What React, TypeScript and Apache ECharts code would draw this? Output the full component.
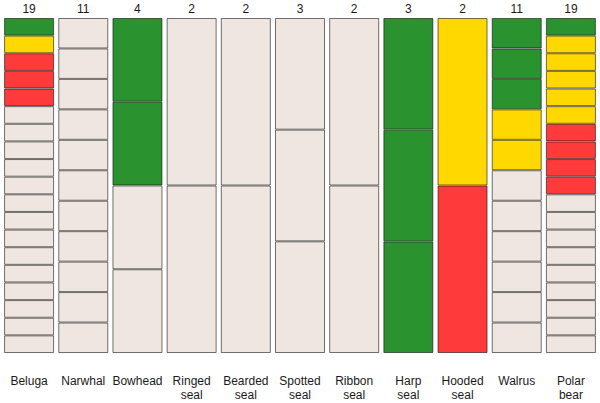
import React, { useEffect, useRef } from "react";
import * as echarts from "echarts";

const categories = ["Beluga", "Narwhal", "Bowhead", "Ringed\nseal", "Bearded\nseal", "Spotted\nseal", "Ribbon\nseal", "Harp\nseal", "Hooded\nseal", "Walrus", "Polar\nbear"];
const counts = [19, 11, 4, 2, 2, 3, 2, 3, 2, 11, 19];
// segments from top: green, yellow, red, then the remainder is beige
const greenCounts = [1, 0, 2, 0, 0, 0, 0, 3, 0, 3, 1];
const yellowCounts = [1, 0, 0, 0, 0, 0, 0, 0, 1, 2, 5];
const redCounts = [3, 0, 0, 0, 0, 0, 0, 0, 1, 0, 4];

const GREEN = "#2a922f";
const YELLOW = "#ffd800";
const RED = "#ff3a3a";
const BEIGE = "#efe6e1";

export default function App() {
  const ref = useRef<HTMLDivElement>(null);
  useEffect(() => {
    if (!ref.current) return;
    const chart = echarts.init(ref.current, null, { renderer: "svg" });
    const maxN = Math.max(...counts);
    const colorLists = counts.map((n, i) => {
      const list: string[] = [];
      for (let k = 0; k < greenCounts[i]; k++) list.push(GREEN);
      for (let k = 0; k < yellowCounts[i]; k++) list.push(YELLOW);
      for (let k = 0; k < redCounts[i]; k++) list.push(RED);
      while (list.length < n) list.push(BEIGE);
      return list.reverse(); // bottom to top
    });
    const series: any[] = [];
    for (let s = 0; s < maxN; s++) {
      series.push({
        type: "bar",
        stack: "all",
        barWidth: 50,
        data: counts.map((n, i) =>
          s < n
            ? { value: 1 / n, itemStyle: { color: colorLists[i][s] } }
            : "-"
        ),
        itemStyle: { borderColor: "rgba(0,0,0,0.55)", borderWidth: 1 },
        emphasis: { disabled: true },
      });
    }
    chart.setOption({
      animation: false,
      grid: { left: 2, right: 2, top: 18, bottom: 50, outerBoundsMode: "none", containLabel: false },
      xAxis: [
        {
          type: "category",
          data: categories,
          axisLine: { show: false },
          axisTick: { show: false },
          axisLabel: {
            margin: 21,
            fontSize: 12,
            lineHeight: 14,
            color: "#1a1a1a",
            fontFamily: "Liberation Sans, Arial, sans-serif",
            interval: 0,
          },
        },
        {
          type: "category",
          position: "top",
          data: counts.map(String),
          axisLine: { show: false },
          axisTick: { show: false },
          axisLabel: {
            margin: 3,
            fontSize: 12,
            color: "#1a1a1a",
            fontFamily: "Liberation Sans, Arial, sans-serif",
            interval: 0,
          },
        },
      ],
      yAxis: { type: "value", min: 0, max: 1, show: false },
      series,
    });
    return () => chart.dispose();
  }, []);
  return <div ref={ref} style={{ width: 600, height: 403, position: "absolute", left: 0, top: 0 }} />;
}
